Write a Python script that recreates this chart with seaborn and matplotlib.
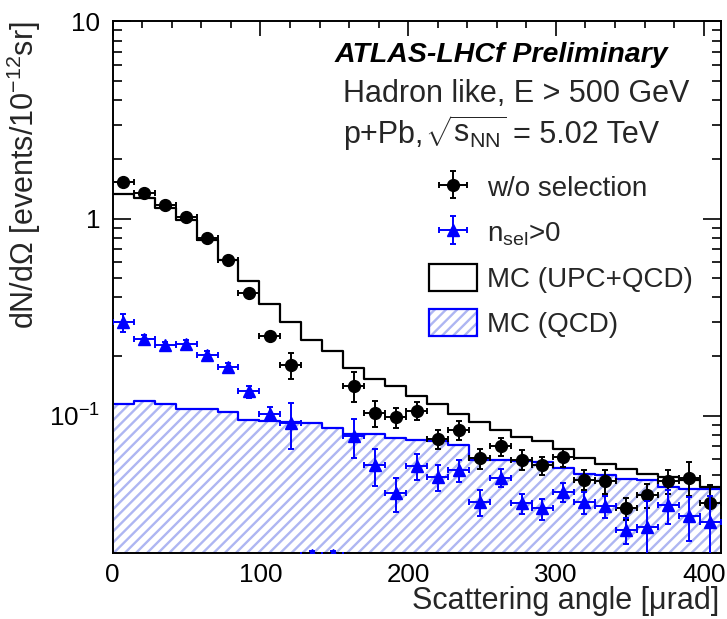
import numpy as np
import pandas as pd
import matplotlib
matplotlib.use("Agg")
import matplotlib.pyplot as plt
from matplotlib.patches import Patch
from matplotlib.ticker import MultipleLocator, LogLocator, NullFormatter, FixedLocator, FixedFormatter
import seaborn as sns

# Binning of the scattering angle (µrad)
bin_width = 14.19
n_bins = 29
edges = np.arange(n_bins + 1) * bin_width
centers = edges[:-1] + bin_width / 2

# Data without selection
data_all = [1.53, 1.354, 1.169, 1.02, 0.796, 0.616, 0.417, 0.254, 0.181, np.nan,
            np.nan, 0.142, 0.103, 0.0982, 0.106, 0.0764, 0.0848, 0.061, 0.0698, 0.0598,
            0.056, 0.0616, 0.0474, 0.0466, 0.034, 0.0394, 0.0466, 0.0485, 0.036]
err_all = [0.04, 0.035, 0.03, 0.03, 0.025, 0.02, 0.015, 0.012, 0.027, np.nan,
           np.nan, 0.025, 0.015, 0.0114, 0.011, 0.0085, 0.0096, 0.0071, 0.0073, 0.007,
           0.0059, 0.0065, 0.0055, 0.0065, 0.0044, 0.0055, 0.0065, 0.0096, 0.0084]

# Data with n_sel > 0
data_sel = [0.297, 0.245, 0.227, 0.231, 0.203, 0.176, 0.1326, 0.1022, 0.0916, 0.0196,
            0.0196, 0.0785, 0.056, 0.0405, 0.0553, 0.0488, 0.0528, 0.0365, 0.0483, 0.036,
            0.0338, 0.041, 0.0365, 0.0347, 0.0262, 0.0272, 0.0351, 0.0309, 0.0289]
err_sel = [0.031, 0.011, 0.01, 0.01, 0.009, 0.008, 0.0093, 0.008, 0.024, 0.001,
           0.001, 0.0174, 0.0118, 0.008, 0.0084, 0.0074, 0.0068, 0.0055, 0.0051, 0.0042,
           0.0041, 0.0045, 0.0047, 0.0044, 0.004, 0.0098, 0.007, 0.0079, 0.0101]

# Monte Carlo predictions
mc_upc_qcd = [1.329, 1.277, 1.129, 0.982, 0.778, 0.616, 0.484, 0.369, 0.297, 0.242,
              0.212, 0.1747, 0.1537, 0.142, 0.1255, 0.114, 0.102, 0.0927, 0.0841, 0.0778,
              0.0743, 0.068, 0.0612, 0.057, 0.0538, 0.0508, 0.0489, 0.0474, 0.0435]
mc_qcd = [0.114, 0.119, 0.114, 0.1075, 0.1075, 0.104, 0.0953, 0.094, 0.093, 0.092,
          0.0865, 0.081, 0.0805, 0.077, 0.0755, 0.0743, 0.0706, 0.0598, 0.0593, 0.0586,
          0.0581, 0.054, 0.0508, 0.0497, 0.0479, 0.047, 0.0435, 0.0426, 0.0426]

y_ticks = [0.1, 1, 10]
y_ticklabels = [r"$10^{-1}$", "1", "10"]

mc = pd.DataFrame({"angle": centers, "upc_qcd": mc_upc_qcd, "qcd": mc_qcd})

sns.set_theme(style="ticks")
plt.rcParams["font.family"] = ["Liberation Sans", "DejaVu Sans"]
plt.rcParams.update({
    "mathtext.fontset": "custom",
    "mathtext.rm": "Liberation Sans",
    "mathtext.it": "Liberation Sans:italic",
    "mathtext.bf": "Liberation Sans:bold",
    "mathtext.default": "regular",
    "hatch.linewidth": 1.7,
    "axes.linewidth": 1.4,
})

hatch_col = "#aeb6f2"
blue = "#0000ff"
hist_range = (edges[0], edges[-1])

fig = plt.figure(figsize=(7.27, 6.19), dpi=100)
ax = fig.add_axes([0.155, 0.106, 0.8363, 0.8593])
ax.set_yscale("log")

# QCD-only MC: hatched fill plus blue outline
sns.histplot(data=mc, x="angle", weights="qcd", binwidth=bin_width, binrange=hist_range,
             element="step", fill=True, facecolor="white", edgecolor=hatch_col,
             linewidth=0, hatch="///", alpha=1, ax=ax)
sns.histplot(data=mc, x="angle", weights="qcd", binwidth=bin_width, binrange=hist_range,
             element="step", fill=False, color=blue, linewidth=1.6, ax=ax)
# UPC+QCD MC outline
sns.histplot(data=mc, x="angle", weights="upc_qcd", binwidth=bin_width, binrange=hist_range,
             element="step", fill=False, color="black", linewidth=1.6, ax=ax)

eb_all = ax.errorbar(centers, data_all, xerr=bin_width / 2, yerr=err_all, fmt="o",
                     color="black", ms=8.5, elinewidth=1.4, capsize=2.5, capthick=1.4,
                     zorder=5)
eb_sel = ax.errorbar(centers, data_sel, xerr=bin_width / 2, yerr=err_sel, fmt="^",
                     color=blue, ms=9, elinewidth=1.4, capsize=2.5, capthick=1.4,
                     zorder=6)

ax.set_xlim(edges[0], edges[-1])
ax.set_ylim(0.02, 10)

ax.xaxis.set_major_locator(MultipleLocator(100))
ax.xaxis.set_minor_locator(MultipleLocator(20))
ax.yaxis.set_major_locator(FixedLocator(y_ticks))
ax.yaxis.set_major_formatter(FixedFormatter(y_ticklabels))
ax.yaxis.set_minor_locator(LogLocator(base=10, subs=np.arange(2, 10)))
ax.yaxis.set_minor_formatter(NullFormatter())

ax.tick_params(axis="both", which="both", direction="in", top=True, right=True,
               width=1.2, colors="black", labelsize=18.7)
ax.tick_params(axis="x", which="major", length=11, pad=7)
ax.tick_params(axis="x", which="minor", length=5)
ax.tick_params(axis="y", which="major", length=13, pad=9)
ax.tick_params(axis="y", which="minor", length=6.5)
for s in ax.spines.values():
    s.set_color("black")

ax.set_xlabel("Scattering angle [μrad]", fontsize=22, loc="right")
ax.set_ylabel(r"dN/d$\Omega$ [events/10$^{-12}$sr]", fontsize=22, loc="top")
ax.yaxis.set_label_coords(-0.115, 1.0)
ax.xaxis.set_label_coords(0.997, -0.061)

W, H = 727, 619
fig.text(668 / W, 1 - 61.7 / H, "ATLAS-LHCf Preliminary", ha="right", va="baseline",
         fontsize=20.5, fontweight="bold", fontstyle="italic", color="black")
fig.text(343 / W, 1 - 101.7 / H, "Hadron like, E > 500 GeV", ha="left", va="baseline",
         fontsize=22)
fig.text(343 / W, 1 - 142.7 / H, "p+Pb,", ha="left", va="baseline", fontsize=22)
fig.text(425 / W, 1 - 142.7 / H, r"$\sqrt{s_{NN}}$", ha="left", va="baseline",
         fontsize=22)
fig.text(659 / W, 1 - 142.7 / H, "= 5.02 TeV", ha="right", va="baseline", fontsize=22)

h_upc = Patch(facecolor="white", edgecolor="black", linewidth=1.6)
h_qcd = (Patch(facecolor="white", edgecolor=hatch_col, linewidth=0, hatch="///"),
         Patch(facecolor="none", edgecolor=blue, linewidth=1.6))
ax.legend([eb_all, eb_sel, h_upc, h_qcd],
          ["w/o selection", r"n$_{sel}$>0", "MC (UPC+QCD)", "MC (QCD)"],
          loc="upper left", bbox_to_anchor=(429 / W, 1 - 173 / H),
          bbox_transform=fig.transFigure, frameon=False, fontsize=20,
          borderpad=0, borderaxespad=0, handlelength=1.73, handleheight=1.15,
          handletextpad=0.36, labelspacing=0.57)

fig.savefig("out.png", dpi=100, facecolor="white")
